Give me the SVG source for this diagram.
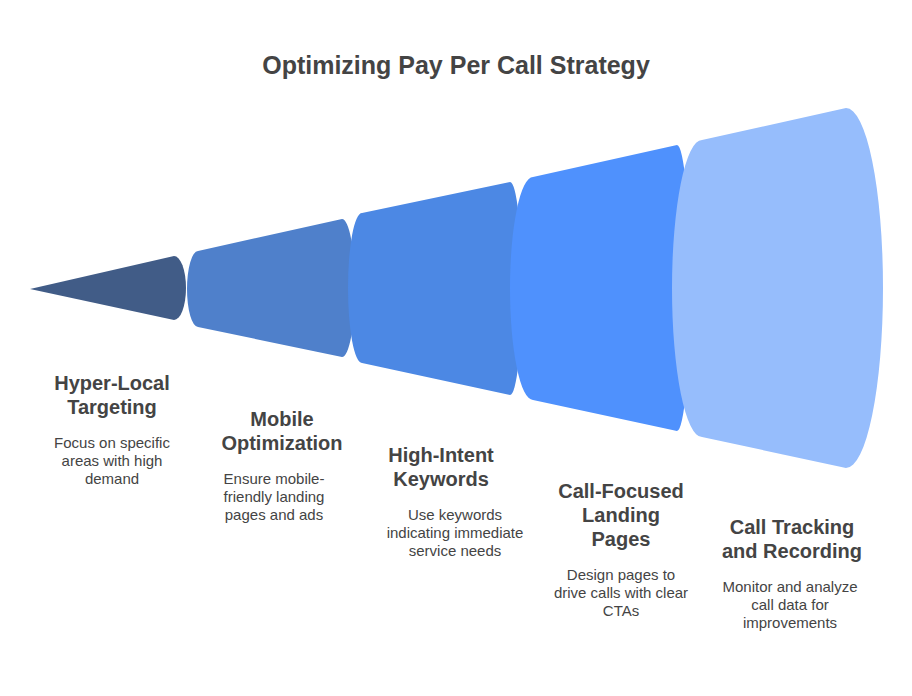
<svg xmlns="http://www.w3.org/2000/svg" width="912" height="696" viewBox="0 0 912 696">
<style>
text{font-family:"Liberation Sans",Arial,sans-serif;fill:#444;text-anchor:middle}
.t{font-size:25px;font-weight:bold}
.h{font-size:20px;font-weight:bold}
.d{font-size:15px}
</style>
<rect width="912" height="696" fill="#fff"/>
<text class="t" x="456" y="74">Optimizing Pay Per Call Strategy</text>
<g id="funnel">
<g id="seg1"><path d="M30,289 L174,256 A12,32 0 0 1 174,320 Z" fill="#415C87"/></g>
<g id="seg2"><path d="M198,251 L342,219 A13,69 0 0 1 342,357 L198,327 A11,38 0 0 1 198,251 Z" fill="#4F80CB"/></g>
<g id="seg3"><path d="M362,213 L510,182 A12,106.5 0 0 1 510,395 L362,363 A14,75 0 0 1 362,213 Z" fill="#4C88E4"/></g>
<g id="seg4"><path d="M533,177 L677,145 A13,143 0 0 1 677,431 L533,400 A23,111.5 0 0 1 533,177 Z" fill="#4F91FD"/></g>
<g id="seg5"><path d="M702,140 L846,108 A37,180 0 0 1 846,468 L702,437 A30,148.5 0 0 1 702,140 Z" fill="#96BDFC"/></g>
</g>
<g id="n1"><text class="h" x="112" y="390">Hyper-Local</text><text class="h" x="112" y="414">Targeting</text>
<text class="d" x="112" y="448">Focus on specific</text><text class="d" x="112" y="466">areas with high</text><text class="d" x="112" y="484">demand</text></g>
<g id="n2"><text class="h" x="282" y="426">Mobile</text><text class="h" x="282" y="450">Optimization</text>
<text class="d" x="274" y="484">Ensure mobile-</text><text class="d" x="274" y="502">friendly landing</text><text class="d" x="274" y="520">pages and ads</text></g>
<g id="n3"><text class="h" x="441" y="462">High-Intent</text><text class="h" x="441" y="486">Keywords</text>
<text class="d" x="455" y="520">Use keywords</text><text class="d" x="455" y="538">indicating immediate</text><text class="d" x="455" y="556">service needs</text></g>
<g id="n4"><text class="h" x="621" y="498">Call-Focused</text><text class="h" x="621" y="522">Landing</text><text class="h" x="621" y="546">Pages</text>
<text class="d" x="621" y="580">Design pages to</text><text class="d" x="621" y="598">drive calls with clear</text><text class="d" x="621" y="616">CTAs</text></g>
<g id="n5"><text class="h" x="792" y="534">Call Tracking</text><text class="h" x="792" y="558">and Recording</text>
<text class="d" x="790" y="592">Monitor and analyze</text><text class="d" x="790" y="610">call data for</text><text class="d" x="790" y="628">improvements</text></g>
</svg>
